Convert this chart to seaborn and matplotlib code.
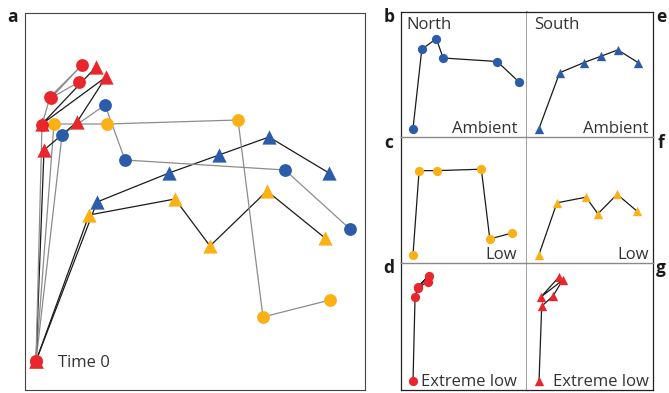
"""
NMDS trajectories of North / South communities under three treatments.
"""

import matplotlib
matplotlib.use("Agg")
import matplotlib.pyplot as plt
import pandas as pd
import seaborn as sns

# Time points 0..5, NMDS coordinates
TIME = [0, 1, 2, 3, 4, 5]
TREATMENTS = ["Ambient", "Low", "Extreme low"]
SITES = ["North", "South"]

NORTH_AMBIENT_X = [0, 0.26, 0.69, 0.89, 2.49, 3.14]
NORTH_AMBIENT_Y = [0, 2.26, 2.56, 2.01, 1.91, 1.32]
SOUTH_AMBIENT_X = [0, 0.61, 1.33, 1.83, 2.33, 2.93]
SOUTH_AMBIENT_Y = [0, 1.59, 1.88, 2.06, 2.24, 1.88]

NORTH_LOW_X = [0, 0.18, 0.71, 2.02, 2.27, 2.94]
NORTH_LOW_Y = [0, 2.37, 2.37, 2.41, 0.44, 0.61]
SOUTH_LOW_X = [0, 0.53, 1.39, 1.74, 2.31, 2.89]
SOUTH_LOW_Y = [0, 1.46, 1.62, 1.15, 1.70, 1.23]

NORTH_EXLOW_X = [0, 0.06, 0.14, 0.46, 0.15, 0.43]
NORTH_EXLOW_Y = [0, 2.36, 2.64, 2.96, 2.63, 2.79]
SOUTH_EXLOW_X = [0, 0.08, 0.41, 0.70, 0.06, 0.60]
SOUTH_EXLOW_Y = [0, 2.11, 2.39, 2.84, 2.37, 2.94]

COLORS = {"Ambient": "#2a5caa", "Low": "#fbb116", "Extreme low": "#e8262b"}
MARKERS = {"North": "o", "South": "^"}
LINE_COLORS = {"North": "#8c8c8c", "South": "#1a1a1a"}

series = {
    ("North", "Ambient"): (NORTH_AMBIENT_X, NORTH_AMBIENT_Y),
    ("South", "Ambient"): (SOUTH_AMBIENT_X, SOUTH_AMBIENT_Y),
    ("North", "Low"): (NORTH_LOW_X, NORTH_LOW_Y),
    ("South", "Low"): (SOUTH_LOW_X, SOUTH_LOW_Y),
    ("North", "Extreme low"): (NORTH_EXLOW_X, NORTH_EXLOW_Y),
    ("South", "Extreme low"): (SOUTH_EXLOW_X, SOUTH_EXLOW_Y),
}
rows = []
for (site, treat), (xs, ys) in series.items():
    for t, x, y in zip(TIME, xs, ys):
        rows.append({"site": site, "treatment": treat, "time": t, "x": x, "y": y})
df = pd.DataFrame(rows)

sns.set_theme(style="white")
plt.rcParams["font.family"] = ["Open Sans", "DejaVu Sans"]

W, H = 669, 393
fig = plt.figure(figsize=(W / 100, H / 100), dpi=100)


def px_axes(left, top, right, bottom):
    return fig.add_axes([left / W, 1 - bottom / H, (right - left) / W, (bottom - top) / H])


def draw_series(ax, sub, site, treat, big):
    sub = sub.sort_values("time")
    line_color = LINE_COLORS[site] if big else "#1a1a1a"
    sns.lineplot(data=sub, x="x", y="y", sort=False, estimator=None, color=line_color,
                 linewidth=0.9, ax=ax, zorder=1, legend=False)
    if site == "North":
        size = 85 if big else 44
    else:
        size = 105 if big else 45
    sns.scatterplot(data=sub, x="x", y="y", marker=MARKERS[site], color=COLORS[treat],
                    s=size, linewidth=0, ax=ax, zorder=2, legend=False)


def clean(ax):
    ax.set_xticks([])
    ax.set_yticks([])
    ax.set_xlabel("")
    ax.set_ylabel("")


# Panel a: all trajectories together
ax_a = px_axes(25, 13, 365, 390)
for treat in TREATMENTS:
    for site in ["South", "North"]:
        sub = df[(df.site == site) & (df.treatment == treat)]
        draw_series(ax_a, sub, site, treat, big=True)
ax_a.set_xlim(-0.11, 3.29)
ax_a.set_ylim(-0.29, 3.48)
clean(ax_a)
for sp in ax_a.spines.values():
    sp.set_color("#444444")
    sp.set_linewidth(0.8)
ax_a.annotate("Time 0", xy=(0, 0), xytext=(16, -4), textcoords="offset points",
              ha="left", va="baseline", fontsize=12, color="#333333")

# Panels b-g: one trajectory each
col_x = [(401, 527), (527, 653)]
row_y = [(12, 137), (137, 263), (263, 390)]
for ci, site in enumerate(SITES):
    for ri, treat in enumerate(TREATMENTS):
        left, right = col_x[ci]
        top, bottom = row_y[ri]
        ax = px_axes(left, top, right, bottom)
        sub = df[(df.site == site) & (df.treatment == treat)]
        draw_series(ax, sub, site, treat, big=False)
        ax.set_xlim(-0.355, 3.37)
        ax.set_ylim(-0.24, 3.32)
        clean(ax)
        for name, sp in ax.spines.items():
            sp.set_color("#222222")
            sp.set_linewidth(0.9)
        if ci == 0:
            ax.spines["right"].set_color("#8a8a8a")
            ax.spines["right"].set_linewidth(1.1)
        else:
            ax.spines["left"].set_visible(False)
        if ri > 0:
            ax.spines["top"].set_color("#8a8a8a")
            ax.spines["top"].set_linewidth(1.0)
        if ri < 2:
            ax.spines["bottom"].set_visible(False)
        tx = 0.921 if ci == 0 else 0.968
        ax.text(tx, 0.032, treat, transform=ax.transAxes, ha="right", va="baseline",
                fontsize=12, color="#333333")
        if ri == 0:
            ax.text(0.04 if ci == 0 else 0.055, 0.864, site, transform=ax.transAxes,
                    ha="left", va="baseline", fontsize=12, color="#333333")

# Panel letters
letters = [("a", 13, 22), ("b", 389, 22), ("c", 389, 148), ("d", 389, 273),
           ("e", 661, 22), ("f", 661, 148), ("g", 661, 273)]
for lab, x, y in letters:
    fig.text(x / W, 1 - y / H, lab, ha="center", va="baseline", fontsize=12.5,
             fontweight="bold", color="#1a1a1a")

plt.savefig("out.png", dpi=100)
plt.close()
